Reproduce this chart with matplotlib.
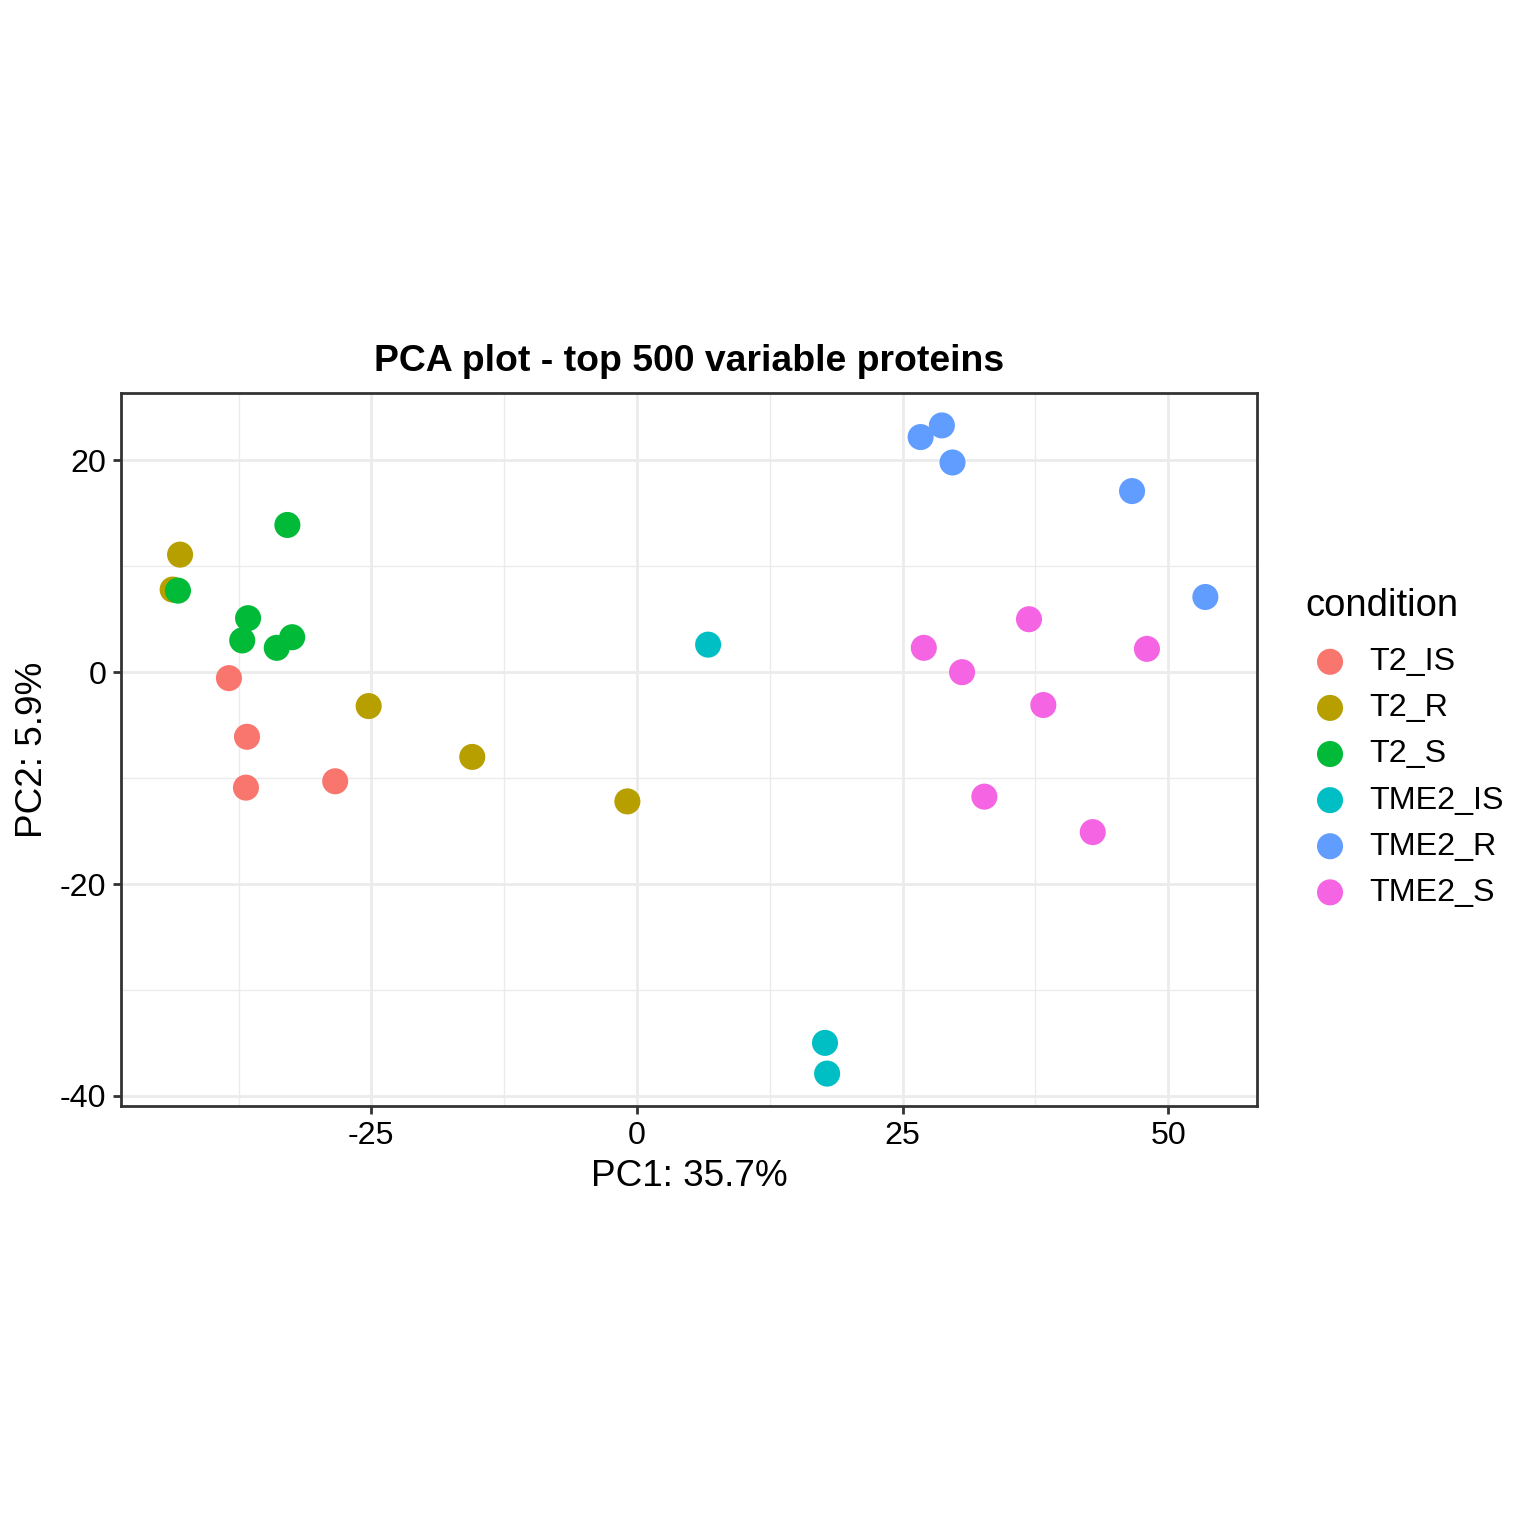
import matplotlib
matplotlib.use("Agg")
import matplotlib.pyplot as plt
from matplotlib.ticker import MultipleLocator

plt.rcParams['font.family'] = ['Liberation Sans', 'DejaVu Sans']
plt.rcParams['axes.unicode_minus'] = False

conditions = ['T2_IS', 'T2_R', 'T2_S', 'TME2_IS', 'TME2_R', 'TME2_S']
colors = ['#F8766D', '#B79F00', '#00BA38', '#00BFC4', '#619CFF', '#F564E3']

pc1 = {
    'T2_IS': [-38.4, -36.7, -36.8, -28.4],
    'T2_R': [-43.7, -43.0, -25.25, -15.5, -0.9],
    'T2_S': [-43.2, -32.9, -36.6, -37.15, -33.9, -32.45],
    'TME2_IS': [6.7, 17.7, 17.9],
    'TME2_R': [26.7, 28.7, 29.7, 46.6, 53.5],
    'TME2_S': [27.0, 30.6, 36.9, 38.25, 48.0, 32.7, 42.9],
}
pc2 = {
    'T2_IS': [-0.56, -6.1, -10.9, -10.3],
    'T2_R': [7.8, 11.1, -3.2, -8.0, -12.2],
    'T2_S': [7.7, 13.9, 5.1, 3.0, 2.3, 3.3],
    'TME2_IS': [2.6, -35.0, -37.9],
    'TME2_R': [22.2, 23.3, 19.8, 17.1, 7.1],
    'TME2_S': [2.3, 0.0, 5.0, -3.1, 2.2, -11.75, -15.1],
}

fig = plt.figure(figsize=(7.68, 7.68), dpi=200)
W = H = 1536
ax = fig.add_axes([121 / W, 1 - 1106 / H, (1257 - 121) / W, (1106 - 393) / H])

for cond, col in zip(conditions, colors):
    ax.scatter(pc1[cond], pc2[cond], s=88, color=col, label=cond,
               edgecolors='none', zorder=3)

# ggplot style 5% expansion
allx = [v for k in conditions for v in pc1[k]]
ally = [v for k in conditions for v in pc2[k]]
dx = (max(allx) - min(allx)) * 0.05
dy = (max(ally) - min(ally)) * 0.05
ax.set_xlim(min(allx) - dx, max(allx) + dx)
ax.set_ylim(min(ally) - dy, max(ally) + dy)

ax.xaxis.set_major_locator(MultipleLocator(25))
ax.xaxis.set_minor_locator(MultipleLocator(12.5))
ax.yaxis.set_major_locator(MultipleLocator(20))
ax.yaxis.set_minor_locator(MultipleLocator(10))
ax.grid(which='major', color='#EBEBEB', linewidth=1.0, zorder=0)
ax.grid(which='minor', color='#EBEBEB', linewidth=0.5, zorder=0)
ax.set_axisbelow(True)
ax.tick_params(which='minor', length=0)
ax.tick_params(which='major', length=2.75, width=1.0, color='#333333',
               labelsize=11.6, labelcolor='black', pad=2.5)
for sp in ax.spines.values():
    sp.set_color('#333333')
    sp.set_linewidth(1.0)

ax.set_xlabel('PC1: 35.7%', fontsize=13.3, labelpad=3)
ax.set_ylabel('PC2: 5.9%', fontsize=13.3, labelpad=3.5)
ax.set_title('PCA plot - top 500 variable proteins', fontsize=13.45,
             fontweight='bold', pad=8)

leg = ax.legend(title='condition', loc='center left',
                bbox_to_anchor=(1292 / W, 1 - 748 / H),
                bbox_transform=fig.transFigure, frameon=False,
                fontsize=11.6, title_fontsize=13.75, markerscale=1.0,
                handlelength=1.56, handletextpad=0.45, labelspacing=0.5,
                borderaxespad=0)
leg._legend_box.align = 'left'
leg._legend_box.sep = 8.3

fig.savefig('out.png', dpi=200)
